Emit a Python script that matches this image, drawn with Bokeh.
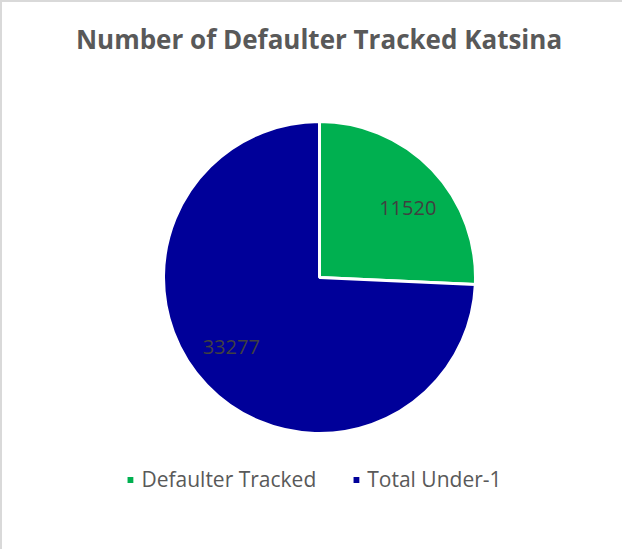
import numpy as np
from bokeh.plotting import figure
from bokeh.models import ColumnDataSource, Range1d, Label, Legend, LegendItem
from bokeh.core.properties import value
from bokeh.embed import file_html
from bokeh.resources import INLINE

# ---- data ----
title_text = "Number of Defaulter Tracked Katsina"
categories = ["Defaulter Tracked", "Total Under-1"]
values = [11520, 33277]
colors = ["#00B050", "#000099"]

# ---- geometry / styling ----
W, H = 622, 549
CX, CY = 317, 275          # pie centre in canvas pixels (from top-left)
R = 156

vals = np.array(values, dtype=float)
frac = vals / vals.sum()
ang = frac * 2 * np.pi
# clockwise from 12 o'clock
ends = np.pi / 2 - np.concatenate([[0], np.cumsum(ang)[:-1]])
starts = ends - ang
mids = (starts + ends) / 2
lab_ang = mids - np.deg2rad(5.5)
lr = 0.72 * R

src = ColumnDataSource(dict(
    cat=categories, val=values, color=colors,
    start=starts, end=ends,
    lx=lr * np.cos(lab_ang), ly=lr * np.sin(lab_ang),
    lab=[str(v) for v in values],
))

p = figure(width=W, height=H, output_backend="svg", toolbar_location=None,
           x_range=Range1d(-CX, W - CX), y_range=Range1d(-(H - CY), CY),
           min_border=0, outline_line_color=None)
p.axis.visible = False
p.grid.visible = False
p.background_fill_color = "white"
p.border_fill_color = "white"
p.styles = {"border-top": "2px solid #d9d9d9", "border-left": "2px solid #d9d9d9"}

w = p.wedge(x=0, y=0, radius=R, start_angle="start", end_angle="end",
            direction="anticlock", fill_color="color", line_color="white",
            line_width=3, source=src)

p.text(x="lx", y="ly", text="lab", source=src, text_align="center",
       text_baseline="middle", text_font=value("Open Sans"),
       text_font_size="20px", text_color="#404040")

p.add_layout(Label(x=W / 2 + 5.5, y=H - 36, x_units="screen", y_units="screen",
                   text=title_text, text_align="center", text_baseline="middle",
                   text_font="Open Sans", text_font_style="bold",
                   text_font_size="26px", text_color="#595959"))

legend = Legend(items=[LegendItem(label=c, renderers=[w], index=i)
                       for i, c in enumerate(categories)],
                orientation="horizontal", location="bottom_center",
                glyph_width=11, glyph_height=11, label_standoff=6, spacing=34,
                padding=0, margin=58, border_line_color=None,
                background_fill_alpha=0,
                label_text_font="Open Sans", label_text_font_size="21px",
                label_text_color="#595959")
p.add_layout(legend)

open("out.html", "w").write(file_html(p, INLINE))
